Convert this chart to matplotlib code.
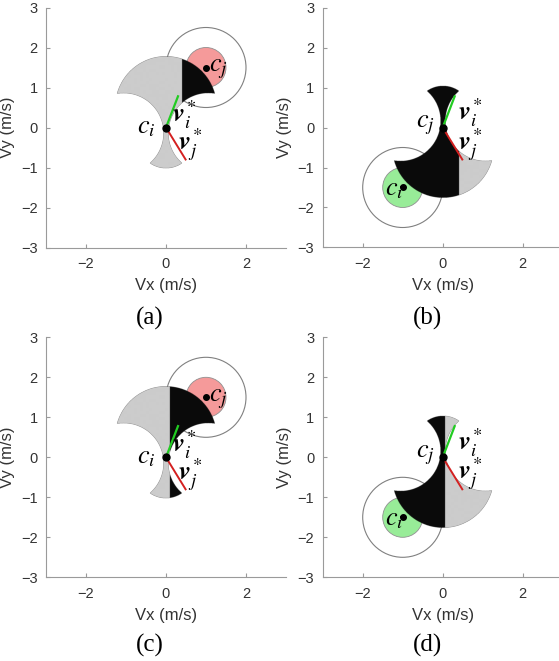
import numpy as np
import matplotlib.pyplot as plt
from matplotlib.patches import Circle

plt.rcParams['mathtext.fontset'] = 'stix'
plt.rcParams['font.family'] = ['Liberation Sans', 'DejaVu Sans']

# panel settings
panel_labels = ['(a)', '(b)', '(c)', '(d)']
rotated = [False, True, False, True]          # shape turned by 180 deg
split_x = [0.4, 0.4, 0.1, 0.05]               # black / gray border
black_right = [True, False, True, False]
neighbour_center = [(1.0, 1.5), (-1.0, -1.5), (1.0, 1.5), (-1.0, -1.5)]
neighbour_color = ['#f59a9a', '#98ec98', '#f59a9a', '#98ec98']
origin_name = ['c_i', 'c_j', 'c_i', 'c_j']
neighbour_name = ['c_j', 'c_i', 'c_j', 'c_i']

# reachable set, built from circles (unrotated)
upper_lobe = (0.0, 0.5, 1.27)
lower_lobe = (0.0, -0.33, 0.70)
cuts = [(-1.06, -0.15, 1.0), (1.06, -0.15, 1.0)]

inner_r = 0.5
outer_r = 1.0
v_i_star = (0.30, 0.78)
v_j_star = (0.49, -0.80)

xticks = [-2, 0, 2]
yticks = [-3, -2, -1, 0, 1, 2, 3]


def in_circle(X, Y, c):
    return (X - c[0])**2 + (Y - c[1])**2 <= c[2]**2


def shape_mask(X, Y):
    m = in_circle(X, Y, upper_lobe) | in_circle(X, Y, lower_lobe)
    for c in cuts:
        m &= ~in_circle(X, Y, c)
    return m


W, H = 559, 661
fig = plt.figure(figsize=(W / 100, H / 100), dpi=100)

# axes boxes in pixels: left, top
boxes = [(46, 7.5), (322.7, 7.5), (46, 337.3), (322.7, 337.3)]
caption_pos = [(150, 318), (427, 318), (150, 645), (427, 645)]
size = 240

g = np.linspace(-2, 2, 801)
X, Y = np.meshgrid(g, g)

for k in range(4):
    left, top = boxes[k]
    ax = fig.add_axes([left / W, (H - top - size) / H, size / W, size / H])
    ax.set_xlim(-3, 3)
    ax.set_ylim(-3, 3)
    ax.set_aspect('equal')
    for s in ['top', 'right']:
        ax.spines[s].set_visible(False)
    for s in ['left', 'bottom']:
        ax.spines[s].set_color('#9a9a9a')
        ax.spines[s].set_linewidth(0.8)
    ax.set_xticks(xticks)
    ax.set_yticks(yticks)
    ax.tick_params(direction='in', length=3, color='#9a9a9a',
                   labelsize=10.5, labelcolor='#333333')
    ax.tick_params(axis='x', pad=7)
    ax.tick_params(axis='y', pad=6)
    ax.set_xlabel('Vx (m/s)', fontsize=12, color='#333333', labelpad=5)
    ax.set_ylabel('Vy (m/s)', fontsize=12, color='#333333', labelpad=4)
    ax.patch.set_alpha(0)

    # neighbour circles
    cx, cy = neighbour_center[k]
    ax.add_patch(Circle((cx, cy), outer_r, fill=False, ec='#808080', lw=0.8, zorder=1))
    ax.add_patch(Circle((cx, cy), inner_r, fc=neighbour_color[k], ec='#909090',
                        lw=0.6, zorder=1))

    # reachable velocity set
    if rotated[k]:
        m = shape_mask(-X, -Y)
    else:
        m = shape_mask(X, Y)
    dark = (X > split_x[k]) if black_right[k] else (X < split_x[k])
    img = np.zeros(X.shape + (4,))
    img[m & ~dark] = [0.80, 0.80, 0.80, 1.0]
    img[m & dark] = [0.04, 0.04, 0.04, 1.0]
    ax.imshow(img, extent=[-2, 2, -2, 2], origin='lower', zorder=2,
              interpolation='antialiased')

    # optimal velocities
    ax.plot([0, v_i_star[0]], [0, v_i_star[1]], color='#22cc22', lw=1.6, zorder=3)
    ax.plot([0, v_j_star[0]], [0, v_j_star[1]], color='#d42020', lw=1.4, zorder=3)
    ax.plot([0], [0], 'o', color='k', ms=5, zorder=4)
    ax.plot([cx], [cy], 'o', color='k', ms=4, zorder=4)

    # annotations
    fs = 19
    if rotated[k]:
        ax.text(-0.42, 0.06, '$' + origin_name[k] + '$', fontsize=fs,
                ha='center', va='center', zorder=5)
        ax.text(cx - 0.2, cy - 0.05, '$' + neighbour_name[k] + '$', fontsize=fs,
                ha='center', va='center', zorder=5)
        ax.text(0.7, 0.38, r'$\mathbfit{v}_i^*$', fontsize=fs,
                ha='center', va='center', zorder=5)
        ax.text(0.7, -0.42, r'$\mathbfit{v}_j^*$', fontsize=fs,
                ha='center', va='center', zorder=5)
    else:
        ax.text(-0.48, 0.0, '$' + origin_name[k] + '$', fontsize=fs,
                ha='center', va='center', zorder=5)
        ax.text(cx + 0.3, cy - 0.05, '$' + neighbour_name[k] + '$', fontsize=fs,
                ha='center', va='center', zorder=5)
        ax.text(0.45, 0.32, r'$\mathbfit{v}_i^*$', fontsize=fs,
                ha='center', va='center', zorder=5)
        ax.text(0.62, -0.44, r'$\mathbfit{v}_j^*$', fontsize=fs,
                ha='center', va='center', zorder=5)

    px, py = caption_pos[k]
    fig.text(px / W, 1 - py / H, panel_labels[k], fontsize=18,
             family='Liberation Serif', ha='center', va='center')

fig.savefig('out.png', dpi=100)
